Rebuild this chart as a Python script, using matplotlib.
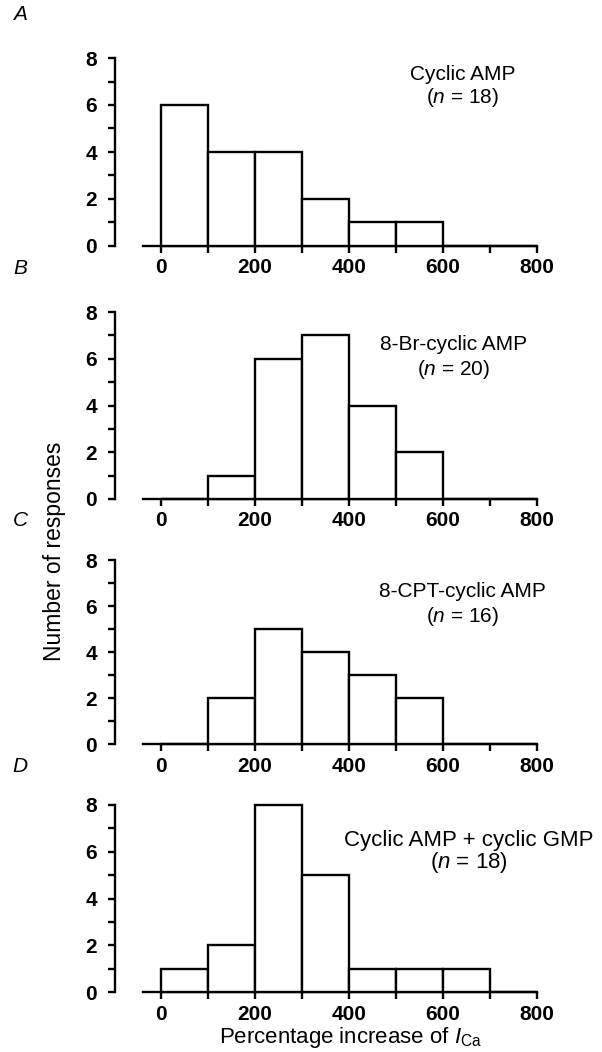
import matplotlib
matplotlib.use("Agg")
import matplotlib.pyplot as plt
from matplotlib.ticker import MultipleLocator

plt.rcParams['font.family'] = ['Liberation Sans', 'DejaVu Sans']
plt.rcParams['mathtext.fontset'] = 'custom'
plt.rcParams['mathtext.rm'] = 'Liberation Sans'
plt.rcParams['mathtext.it'] = 'Liberation Sans:italic'

bin_edges = [0, 100, 200, 300, 400, 500, 600, 700]
panel_letters = ["A", "B", "C", "D"]
titles = ["Cyclic AMP", "8-Br-cyclic AMP", "8-CPT-cyclic AMP", "Cyclic AMP + cyclic GMP"]
n_values = [18, 20, 16, 18]
counts_a = [6, 4, 4, 2, 1, 1, 0, 0]
counts_b = [0, 1, 6, 7, 4, 2, 0, 0]
counts_c = [0, 2, 5, 4, 3, 2, 0, 0]
counts_d = [1, 2, 8, 5, 1, 1, 1, 0]
all_counts = [counts_a, counts_b, counts_c, counts_d]
xticks = [0, 200, 400, 600, 800]
yticks = [0, 2, 4, 6, 8]

W, H = 602, 1052
fig = plt.figure(figsize=(W / 100, H / 100), dpi=100)

# pixel layout (top, bottom) of each panel
panel_px = [(58, 246), (312, 499), (560, 744), (805, 992)]
letter_y = [15, 268, 520, 766]
left_px, right_px = 115, 539.4
# text positions in data coords (x, y_title, y_n)
text_pos = [(642, 7.28, 6.34), (622, 6.6, 5.55), (642, 6.65, 5.55), (655, 6.5, 5.55)]
title_sizes = [15, 15, 15, 16]

lw = 1.7
for i, (top, bot) in enumerate(panel_px):
    ax = fig.add_axes([left_px / W, 1 - bot / H, (right_px - left_px) / W, (bot - top) / H])
    ax.bar(bin_edges, all_counts[i], width=100, align='edge', color='white',
           edgecolor='black', linewidth=lw, clip_on=False, zorder=3)
    ax.set_xlim(-98, 805)
    ax.set_ylim(0, 8)
    for s in ['top', 'right']:
        ax.spines[s].set_visible(False)
    ax.spines['left'].set_bounds(0, 8)
    ax.spines['bottom'].set_bounds(-38, 800)
    ax.spines['left'].set_linewidth(lw)
    ax.spines['bottom'].set_linewidth(lw)
    ax.set_xticks(xticks)
    ax.xaxis.set_minor_locator(MultipleLocator(100))
    ax.set_yticks(yticks)
    ax.yaxis.set_minor_locator(MultipleLocator(1))
    ax.tick_params(axis='both', which='both', direction='out', length=5, width=lw)
    ax.tick_params(axis='x', which='major', pad=4)
    ax.tick_params(axis='y', which='major', pad=8)
    for lab in ax.get_xticklabels() + ax.get_yticklabels():
        lab.set_fontsize(15)
        lab.set_fontweight('bold')
    xt, y1, y2 = text_pos[i]
    ax.text(xt, y1, titles[i], ha='center', va='center', fontsize=title_sizes[i],
            clip_on=False)
    ax.text(xt, y2, r"($\mathit{n}$ = %d)" % n_values[i], ha='center', va='center',
            fontsize=title_sizes[i], clip_on=False)
    fig.text(20 / W, 1 - letter_y[i] / H, panel_letters[i], ha='center', va='center',
             fontsize=15, style='italic')

fig.text(55 / W, 1 - 551 / H, "Number of responses", rotation=90, ha='center',
         va='center', fontsize=16.5)
fig.text(351 / W, 1 - 1038 / H, r"Percentage increase of $\mathit{I}_{\mathrm{Ca}}$",
         ha='center', va='center', fontsize=16)

fig.savefig("out.png", dpi=100)
